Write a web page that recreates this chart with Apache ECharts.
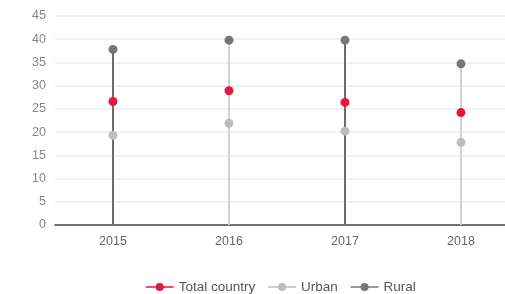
<!DOCTYPE html>
<html>
<head>
<meta charset="utf-8">
<script src="https://cdn.jsdelivr.net/npm/echarts@6/dist/echarts.min.js"></script>
<style>
    html, body { margin: 0; padding: 0; background: #fff; }
    #chart-box { width: 505px; height: 294px; }
</style>
</head>
<body>
<div id="chart-box"></div>
<script>
    let years = ['2015', '2016', '2017', '2018'];
    let totalCountry = [26.6, 28.9, 26.4, 24.2];
    let urban = [19.3, 21.9, 20.2, 17.8];
    let rural = [37.8, 39.8, 39.8, 34.7];
    let stemColors = ['#6a6a6a', '#d2d2d2', '#6a6a6a', '#d2d2d2'];

    let chart = echarts.init(document.getElementById('chart-box'));

    let option = {
        animation: false,
        grid: {left: 55, width: 464, top: 16, bottom: 69, outerBoundsMode: 'none'},
        legend: {
            data: ['Total country', 'Urban', 'Rural'],
            top: 275,
            left: 140,
            itemWidth: 28,
            itemHeight: 10,
            itemGap: 12,
            itemStyle: {borderWidth: 0},
            textStyle: {color: '#555', fontSize: 13.5, fontFamily: 'Arial, Liberation Sans'},
            lineStyle: {width: 1.5, opacity: 1}
        },
        xAxis: {
            type: 'category',
            data: years,
            axisTick: {show: false},
            axisLine: {lineStyle: {color: '#444', width: 1.5}},
            axisLabel: {color: '#666', fontSize: 12.5, margin: 10, fontFamily: 'Arial, Liberation Sans'}
        },
        yAxis: {
            type: 'value',
            min: 0,
            max: 45,
            interval: 5,
            axisLabel: {color: '#888', fontSize: 12.5, margin: 9, fontFamily: 'Arial, Liberation Sans'},
            splitLine: {lineStyle: {color: '#ececec', width: 1.5}}
        },
        series: [
            {
                name: 'stem',
                type: 'bar',
                barWidth: 2,
                z: 1,
                data: rural.map(function (v, i) {
                    return {value: v, itemStyle: {color: stemColors[i]}};
                })
            },
            {
                name: 'Total country',
                type: 'line',
                data: totalCountry,
                symbol: 'circle',
                symbolSize: 9,
                z: 4,
                itemStyle: {color: '#e5173f'},
                lineStyle: {width: 0, color: '#e5173f'}
            },
            {
                name: 'Urban',
                type: 'line',
                data: urban,
                symbol: 'circle',
                symbolSize: 9,
                z: 3,
                itemStyle: {color: '#bdbdbd'},
                lineStyle: {width: 0, color: '#bdbdbd'}
            },
            {
                name: 'Rural',
                type: 'line',
                data: rural,
                symbol: 'circle',
                symbolSize: 9,
                z: 3,
                itemStyle: {color: '#777'},
                lineStyle: {width: 0, color: '#777'}
            }
        ]
    };

    chart.setOption(option);

    window.addEventListener('resize', function () {
        chart.resize();
    })
</script>
</body>
</html>
